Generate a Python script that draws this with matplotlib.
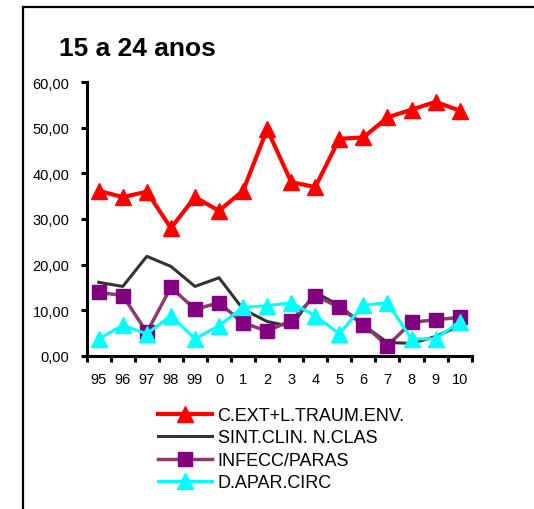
import numpy as np
import matplotlib.pyplot as plt
from matplotlib.lines import Line2D

plt.rcParams['font.family'] = ['Liberation Sans', 'DejaVu Sans']

# Dados
anos = ['95', '96', '97', '98', '99', '0', '1', '2', '3', '4', '5', '6', '7', '8', '9', '10']
c_ext = [36.2, 34.8, 36.0, 28.0, 34.8, 31.8, 36.2, 49.7, 38.1, 37.0, 47.6, 47.9, 52.3, 54.0, 55.7, 53.8]
sint_clin = [16.1, 15.2, 21.8, 19.6, 15.2, 17.1, 10.2, 7.5, 6.4, 13.9, 11.0, 6.7, 2.9, 2.7, 4.2, 6.6]
infecc = [13.9, 13.2, 5.1, 15.0, 10.2, 11.6, 7.2, 5.4, 7.7, 13.2, 10.6, 6.8, 2.2, 7.3, 7.9, 8.4]
d_apar = [3.7, 6.7, 4.8, 8.8, 3.7, 6.6, 10.6, 11.0, 11.6, 8.8, 4.8, 11.1, 11.6, 3.7, 3.7, 7.5]

nomes = ['C.EXT+L.TRAUM.ENV.', 'SINT.CLIN. N.CLAS', 'INFECC/PARAS', 'D.APAR.CIRC']

x = np.arange(len(anos))

fig = plt.figure(figsize=(5.34, 5.10), dpi=100)
ax = fig.add_axes([0.1623, 0.3006, 0.721, 0.5361])

ax.plot(x, c_ext, color='#ff0000', lw=3, marker='^', ms=11.5, label=nomes[0])
ax.plot(x, sint_clin, color='#333333', lw=2.2, label=nomes[1])
ax.plot(x, infecc, color='#8b3a6b', lw=2.5, marker='s', ms=10.5,
        mfc='#800080', mec='#800080', label=nomes[2])
ax.plot(x, d_apar, color='#00ffff', lw=2.2, marker='^', ms=11, label=nomes[3])

ax.set_xlim(-0.5, 15.5)
ax.set_ylim(0, 60)
ax.set_yticks(np.arange(0, 61, 10))
ax.set_yticklabels([f'{v:.2f}'.replace('.', ',') for v in np.arange(0, 61, 10)])
ax.set_xticks(x)
ax.set_xticklabels(anos)
ax.set_xticks(np.arange(-0.5, 16, 1), minor=True)

for s in ['top', 'right']:
    ax.spines[s].set_visible(False)
for s in ['left', 'bottom']:
    ax.spines[s].set_linewidth(2.2)

ax.tick_params(axis='y', length=4.5, width=2.2, labelsize=10.5, pad=8)
ax.tick_params(axis='x', which='major', length=0, labelsize=10.5, pad=12)
ax.tick_params(axis='x', which='minor', length=4.5, width=2.2)

fig.text(0.110, 1 - 56 / 510, '15 a 24 anos', fontsize=19, fontweight='bold',
         va='baseline', ha='left')

fig.legend(loc='upper left', bbox_to_anchor=(158 / 534, 1 - 408 / 510),
           frameon=False, fontsize=13, handlelength=3.0, handletextpad=0.3,
           labelspacing=0.3, borderpad=0, borderaxespad=0, numpoints=1)

# moldura
fig.add_artist(Line2D([22.7 / 534, 22.7 / 534], [0, 1 - 8 / 510], color='black',
                      lw=1.6, transform=fig.transFigure))
fig.add_artist(Line2D([22.7 / 534, 1], [1 - 8 / 510, 1 - 8 / 510], color='black',
                      lw=1.6, transform=fig.transFigure))

plt.savefig('out.png', dpi=100)
